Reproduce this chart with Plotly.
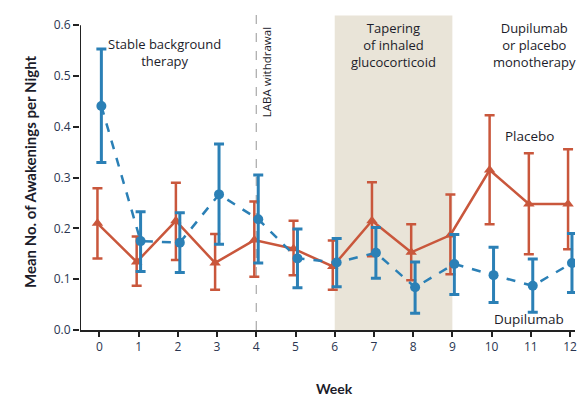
import plotly.graph_objects as go

# Weekly nocturnal awakenings, mean with 95% CI
weeks = [0, 1, 2, 3, 4, 5, 6, 7, 8, 9, 10, 11, 12]

dupi_mean = [0.441, 0.175, 0.172, 0.267, 0.218, 0.141, 0.133, 0.152, 0.084, 0.130, 0.108, 0.087, 0.132]
dupi_hi = [0.553, 0.233, 0.231, 0.366, 0.305, 0.199, 0.180, 0.202, 0.134, 0.188, 0.163, 0.140, 0.190]
dupi_lo = [0.330, 0.115, 0.113, 0.169, 0.132, 0.083, 0.085, 0.102, 0.033, 0.070, 0.054, 0.035, 0.074]

plac_mean = [0.210, 0.134, 0.215, 0.132, 0.177, 0.160, 0.125, 0.215, 0.153, 0.187, 0.315, 0.248, 0.248]
plac_hi = [0.279, 0.184, 0.290, 0.189, 0.253, 0.215, 0.176, 0.291, 0.208, 0.267, 0.423, 0.348, 0.356]
plac_lo = [0.141, 0.087, 0.138, 0.079, 0.105, 0.108, 0.079, 0.145, 0.098, 0.110, 0.208, 0.149, 0.159]

y_ticks = [0.0, 0.1, 0.2, 0.3, 0.4, 0.5, 0.6]

BLUE = "#2b80b6"
ORANGE = "#c9573c"
TEXT = "#1c1c2a"
FONT = "Open Sans"

X_MIN, X_MAX = -0.495, 12.127
Y_MIN, Y_MAX = 0.0, 0.63

fig = go.Figure()

# Placebo: solid line, triangles
fig.add_trace(go.Scatter(
    x=[w - 0.05 for w in weeks], y=plac_mean,
    mode="lines+markers",
    line=dict(color=ORANGE, width=2.5),
    marker=dict(symbol="triangle-up", size=10, color=ORANGE),
    error_y=dict(type="data", symmetric=False,
                 array=[h - m for h, m in zip(plac_hi, plac_mean)],
                 arrayminus=[m - l for m, l in zip(plac_mean, plac_lo)],
                 color=ORANGE, thickness=2.5, width=5),
    showlegend=False,
))

# Dupilumab: dashed line, circles
fig.add_trace(go.Scatter(
    x=[w + 0.05 for w in weeks], y=dupi_mean,
    mode="lines+markers",
    line=dict(color=BLUE, width=2.5, dash="dash"),
    marker=dict(symbol="circle", size=10, color=BLUE),
    error_y=dict(type="data", symmetric=False,
                 array=[h - m for h, m in zip(dupi_hi, dupi_mean)],
                 arrayminus=[m - l for m, l in zip(dupi_mean, dupi_lo)],
                 color=BLUE, thickness=3, width=5),
    showlegend=False,
))

shapes = [
    # glucocorticoid tapering period
    dict(type="rect", xref="x", yref="y", x0=6, x1=9, y0=0, y1=0.619,
         fillcolor="#e9e4d8", line=dict(width=0), layer="below"),
    # LABA withdrawal marker
    dict(type="line", xref="x", yref="y", x0=4, x1=4, y0=0, y1=0.62,
         line=dict(color="#a8a8a8", width=1.2, dash="dash"), layer="below"),
    # y axis line (stops at top tick)
    dict(type="line", xref="x", yref="y", x0=X_MIN, x1=X_MIN, y0=0, y1=0.6,
         line=dict(color="#222222", width=2)),
]

ann_font = dict(family=FONT, size=13, color=TEXT)
annotations = [
    dict(x=1.66, y=0.585, text="Stable background<br>therapy", showarrow=False,
         xanchor="center", yanchor="top", font=ann_font),
    dict(x=7.5, y=0.616, text="Tapering<br>of inhaled<br>glucocorticoid", showarrow=False,
         xanchor="center", yanchor="top", font=ann_font),
    dict(x=11.1, y=0.616, text="Dupilumab<br>or placebo<br>monotherapy", showarrow=False,
         xanchor="center", yanchor="top", font=ann_font),
    dict(x=4.28, y=0.508, text="LABA withdrawal", showarrow=False, textangle=-90,
         xanchor="center", yanchor="middle", font=dict(family=FONT, size=11.5, color=TEXT)),
    dict(x=10.96, y=0.382, text="Placebo", showarrow=False,
         xanchor="center", yanchor="middle", font=dict(family=FONT, size=13.5, color=TEXT)),
    dict(x=10.95, y=0.022, text="Dupilumab", showarrow=False,
         xanchor="center", yanchor="middle", font=dict(family=FONT, size=13.5, color=TEXT)),
    dict(x=X_MIN, y=0.311, xshift=-50, text="<b>Mean No. of Awakenings per Night</b>",
         showarrow=False, textangle=-90, xanchor="center", yanchor="middle",
         font=dict(family="Lato", size=15, color=TEXT)),
    dict(x=6.0, y=0, yshift=-58, text="<b>Week</b>", showarrow=False,
         xanchor="center", yanchor="middle", font=dict(family="Lato", size=14, color=TEXT)),
]

fig.update_layout(
    width=577, height=397,
    margin=dict(l=80, r=0, t=10, b=67),
    paper_bgcolor="white", plot_bgcolor="white",
    shapes=shapes, annotations=annotations,
    xaxis=dict(range=[X_MIN, X_MAX], tickmode="array", tickvals=weeks,
               ticktext=[str(w) for w in weeks], showgrid=False, zeroline=False,
               showline=True, linecolor="#222222", linewidth=2,
               ticks="outside", ticklen=5, tickwidth=1.5, tickcolor="#222222",
               ticklabeloverflow="allow",
               tickfont=dict(family=FONT, size=12, color="#2a3550")),
    yaxis=dict(range=[Y_MIN, Y_MAX], tickmode="array", tickvals=y_ticks,
               ticktext=[f"{v:.1f}" for v in y_ticks], showgrid=False, zeroline=False,
               showline=False, ticks="outside", ticklen=6, tickwidth=1.5,
               tickcolor="#222222",
               tickfont=dict(family=FONT, size=12, color="#2a3550")),
)

fig.write_html("out.html")
